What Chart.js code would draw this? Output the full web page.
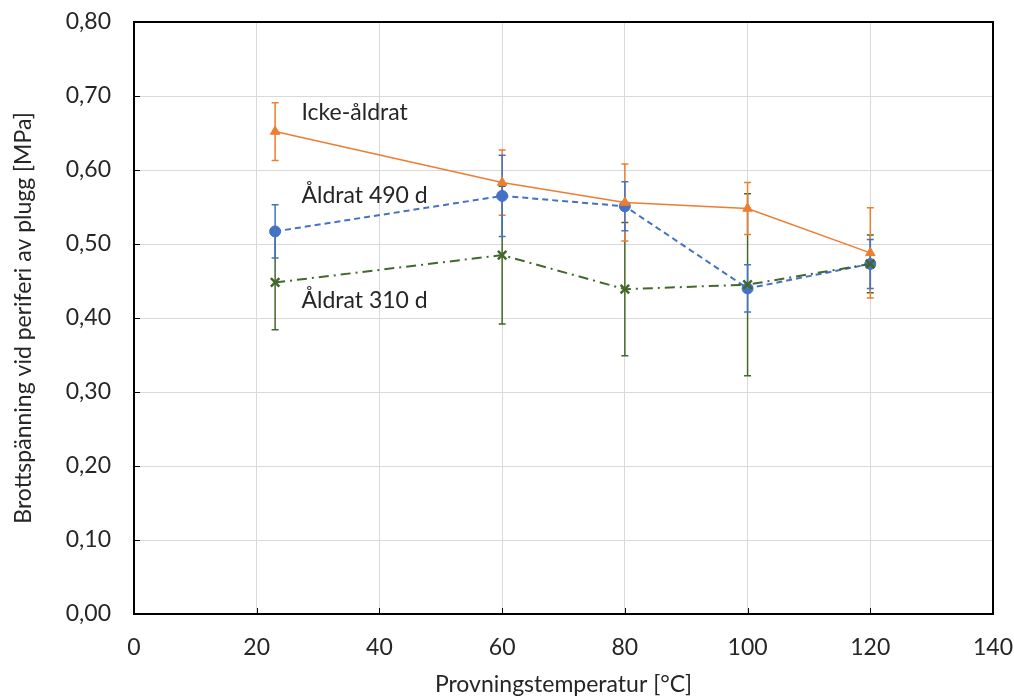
<!DOCTYPE html>
<html>
<head>
<meta charset="utf-8">
<script src="https://cdn.jsdelivr.net/npm/chart.js@4.4.1/dist/chart.umd.min.js"></script>
<style>
  html, body { margin: 0; padding: 0; background: #fff; }
  #wrap { width: 1014px; height: 696px; position: relative; }
</style>
</head>
<body>
<div id="wrap"><canvas id="chart"></canvas></div>
<script>
// test temperatures [°C]
const temps = [23, 60, 80, 100, 120];

// mean failure stress [MPa] and +/- deviation per series
const unaged = [0.652, 0.583, 0.556, 0.548, 0.488];
const unagedErr = [0.039, 0.044, 0.052, 0.035, 0.061];

const aged490 = [0.517, 0.565, 0.551, 0.440, 0.473];
const aged490Err = [0.036, 0.055, 0.033, 0.032, 0.033];

const aged310 = [0.448, 0.485, 0.439, 0.445, 0.473];
const aged310Err = [0.064, 0.093, 0.090, 0.123, 0.039];

// series names, written next to the curves (data coordinates)
const seriesLabels = [
    { text: 'Icke-åldrat', x: 27.3, y: 0.677 },
    { text: 'Åldrat 490 d', x: 27.3, y: 0.566 },
    { text: 'Åldrat 310 d', x: 27.3, y: 0.424 }
];

const FONT = 'Lato, "Open Sans", sans-serif';
const FSIZE = 23;
const TEXT = '#262626';

function pts(values) {
    return temps.map((t, i) => ({ x: t, y: values[i] }));
}

// vertical error bars with caps, drawn under the markers
const errorBars = {
    id: 'errorBars',
    beforeDatasetsDraw(chart) {
        const ctx = chart.ctx;
        const xs = chart.scales.x, ys = chart.scales.y;
        chart.data.datasets.forEach(ds => {
            if (!ds.err) return;
            ctx.save();
            ctx.strokeStyle = ds.borderColor;
            ctx.lineWidth = 1.5;
            ds.data.forEach((p, i) => {
                const px = xs.getPixelForValue(p.x);
                const top = ys.getPixelForValue(p.y + ds.err[i]);
                const bot = ys.getPixelForValue(p.y - ds.err[i]);
                ctx.beginPath();
                ctx.moveTo(px, top); ctx.lineTo(px, bot);
                ctx.moveTo(px - 3.5, top); ctx.lineTo(px + 3.5, top);
                ctx.moveTo(px - 3.5, bot); ctx.lineTo(px + 3.5, bot);
                ctx.stroke();
            });
            ctx.restore();
        });
    }
};

// plot frame, inward tick marks and the series names
const frame = {
    id: 'frame',
    afterDraw(chart) {
        const ctx = chart.ctx;
        const a = chart.chartArea;
        const xs = chart.scales.x, ys = chart.scales.y;
        ctx.save();
        ctx.strokeStyle = '#000';
        ctx.lineWidth = 2;
        ctx.strokeRect(a.left, a.top, a.right - a.left, a.bottom - a.top);
        ctx.beginPath();
        xs.ticks.forEach(t => {
            const px = Math.round(xs.getPixelForValue(t.value)) + 0.5;
            ctx.moveTo(px, a.bottom); ctx.lineTo(px, a.bottom - 6);
        });
        ys.ticks.forEach(t => {
            const py = Math.round(ys.getPixelForValue(t.value)) + 0.5;
            ctx.moveTo(a.left, py); ctx.lineTo(a.left + 6, py);
        });
        ctx.lineWidth = 1;
        ctx.stroke();

        ctx.fillStyle = TEXT;
        ctx.font = FSIZE + 'px ' + FONT;
        ctx.textBaseline = 'middle';
        ctx.textAlign = 'left';
        seriesLabels.forEach(l => {
            ctx.fillText(l.text, xs.getPixelForValue(l.x), ys.getPixelForValue(l.y));
        });
        ctx.restore();
    }
};

new Chart(document.getElementById('chart'), {
    type: 'scatter',
    data: {
        datasets: [
            {
                label: 'Åldrat 310 d',
                data: pts(aged310),
                err: aged310Err,
                showLine: true,
                borderColor: '#43682b',
                backgroundColor: '#43682b',
                borderWidth: 2,
                borderDash: [10, 5, 2, 5],
                pointStyle: 'crossRot',
                pointRadius: 6,
                pointBorderWidth: 2.5,
                order: 1
            },
            {
                label: 'Icke-åldrat',
                data: pts(unaged),
                err: unagedErr,
                showLine: true,
                borderColor: '#ed7d31',
                backgroundColor: '#ed7d31',
                borderWidth: 1.5,
                pointStyle: 'triangle',
                pointRadius: 5.5,
                pointBorderWidth: 1,
                order: 2
            },
            {
                label: 'Åldrat 490 d',
                data: pts(aged490),
                err: aged490Err,
                showLine: true,
                borderColor: '#4472c4',
                backgroundColor: '#4472c4',
                borderWidth: 2,
                borderDash: [6, 4],
                pointStyle: 'circle',
                pointRadius: 5.5,
                pointBorderWidth: 1,
                order: 3
            }
        ]
    },
    options: {
        responsive: true,
        maintainAspectRatio: false,
        animation: false,
        layout: { padding: { top: 22, right: 21, left: 0, bottom: 0 } },
        plugins: {
            legend: { display: false },
            tooltip: { enabled: false }
        },
        scales: {
            x: {
                type: 'linear',
                min: 0,
                max: 140,
                ticks: {
                    stepSize: 20,
                    color: TEXT,
                    font: { family: FONT, size: FSIZE },
                    padding: 20,
                    maxRotation: 0
                },
                grid: { color: '#d9d9d9', lineWidth: 1, drawTicks: false },
                border: { color: '#000', width: 2 },
                title: {
                    display: true,
                    text: 'Provningstemperatur [°C]',
                    color: TEXT,
                    font: { family: FONT, size: FSIZE, lineHeight: 1 },
                    padding: { top: 0, bottom: 0 }
                },
                afterFit(scale) {
                    scale.height = 82;
                    scale.paddingLeft = 0;
                    scale.paddingRight = 0;
                }
            },
            y: {
                min: 0,
                max: 0.8,
                ticks: {
                    stepSize: 0.1,
                    color: TEXT,
                    font: { family: FONT, size: FSIZE, lineHeight: 1 },
                    padding: 23,
                    callback: v => v.toFixed(2).replace('.', ',')
                },
                grid: { color: '#d9d9d9', lineWidth: 1, drawTicks: false },
                border: { color: '#000', width: 2 },
                title: {
                    display: true,
                    text: 'Brottspänning vid periferi av plugg [MPa]',
                    color: TEXT,
                    font: { family: FONT, size: FSIZE, lineHeight: 1 },
                    padding: { top: 12, bottom: 0 }
                },
                afterFit(scale) {
                    scale.width = 134;
                    scale.paddingTop = 0;
                    scale.paddingBottom = 0;
                }
            }
        }
    },
    plugins: [errorBars, frame]
});
</script>
</body>
</html>
